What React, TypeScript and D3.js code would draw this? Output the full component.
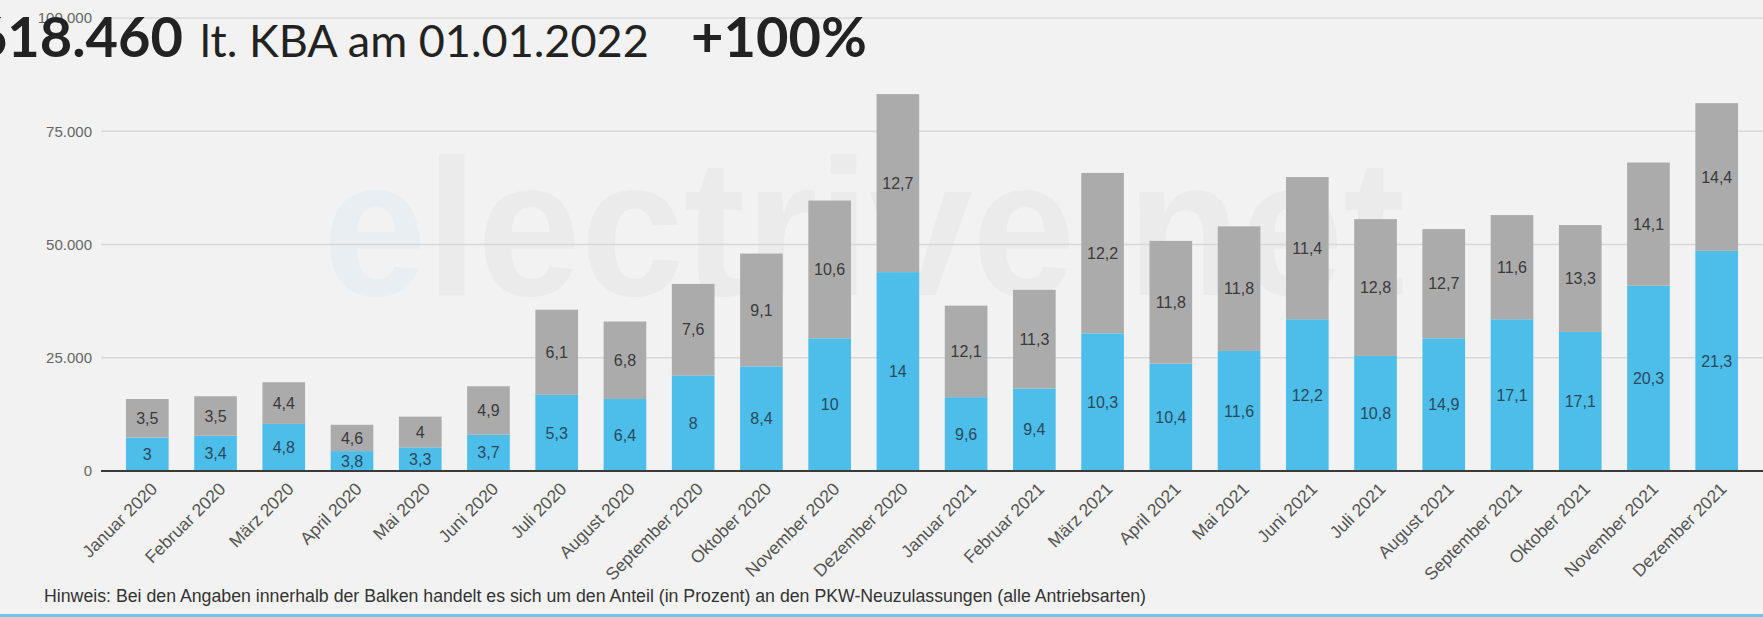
import * as d3 from "d3";
import React from "react";

// monthly BEV / PHEV new registrations (KBA)
const categories = [
  "Januar 2020", "Februar 2020", "März 2020", "April 2020", "Mai 2020", "Juni 2020",
  "Juli 2020", "August 2020", "September 2020", "Oktober 2020", "November 2020", "Dezember 2020",
  "Januar 2021", "Februar 2021", "März 2021", "April 2021", "Mai 2021", "Juni 2021",
  "Juli 2021", "August 2021", "September 2021", "Oktober 2021", "November 2021", "Dezember 2021",
];
const bevCounts = [
  7400, 7800, 10400, 4400, 5200, 8000, 16800, 15900, 21100, 23100, 29300, 43900,
  16300, 18200, 30400, 23700, 26500, 33500, 25400, 29300, 33500, 30700, 40900, 48600,
];
const phevCounts = [
  8500, 8700, 9200, 5800, 6800, 10700, 18800, 17100, 20200, 24900, 30400, 39300,
  20200, 21800, 35400, 27100, 27500, 31400, 30200, 24100, 23000, 23600, 27200, 32600,
];
// shares (percent of all new cars) printed inside the bars
const bevShare = [
  "3", "3,4", "4,8", "3,8", "3,3", "3,7", "5,3", "6,4", "8", "8,4", "10", "14",
  "9,6", "9,4", "10,3", "10,4", "11,6", "12,2", "10,8", "14,9", "17,1", "17,1", "20,3", "21,3",
];
const phevShare = [
  "3,5", "3,5", "4,4", "4,6", "4", "4,9", "6,1", "6,8", "7,6", "9,1", "10,6", "12,7",
  "12,1", "11,3", "12,2", "11,8", "11,8", "11,4", "12,8", "12,7", "11,6", "13,3", "14,1", "14,4",
];
const yTickValues = [0, 25000, 50000, 75000, 100000];

const blue = "#4dbde9";
const grey = "#ababab";
const chartFont = "'Liberation Sans', Arial, sans-serif";
const narrowFont = "'Liberation Sans Narrow', 'Arial Narrow', 'Liberation Sans', sans-serif";

const de = d3.formatLocale({
  decimal: ",",
  thousands: ".",
  grouping: [3],
  currency: ["", " €"],
});
const fmt = de.format(",d");

export default function App() {
  const width = 1763;
  const height = 617;

  const x = d3
    .scaleBand<string>()
    .domain(categories)
    .range([101, width])
    .paddingInner(0.375)
    .paddingOuter(0.366);
  const y = d3.scaleLinear([0, 100000], [471, 18]);

  const stacked = categories.map((c, i) => ({
    c,
    bev: bevCounts[i],
    phev: phevCounts[i],
    bevLabel: bevShare[i],
    phevLabel: phevShare[i],
  }));

  return (
    <svg
      width={width}
      height={height}
      style={{ position: "absolute", left: 0, top: 0, display: "block" }}
    >
      <rect width={width} height={height} fill="#f2f2f2" />

      {/* watermark */}
      <text
        x={323}
        y={295}
        fontFamily={chartFont}
        fontWeight="bold"
        fontSize={195}
        textLength={1082}
        lengthAdjust="spacingAndGlyphs"
        fill="#ebebeb"
      >
        <tspan fill="#e8eef2">e</tspan>lectrive.net
      </text>

      {/* y grid + labels */}
      <g fontFamily={narrowFont} fontSize={15} fill="#666" textAnchor="end">
        {yTickValues.map((v) => (
          <g key={v} transform={`translate(0,${y(v)})`}>
            {v > 0 && <line x1={101} x2={width} stroke="#d8d8d8" strokeWidth={1.5} />}
            <text x={92} dy="0.35em">
              {fmt(v)}
            </text>
          </g>
        ))}
      </g>

      {/* bars */}
      {stacked.map((d) => {
        const x0 = x(d.c) ?? 0;
        const bw = x.bandwidth();
        const yb = y(d.bev);
        const yt = y(d.bev + d.phev);
        return (
          <g key={d.c}>
            <rect x={x0} y={yb} width={bw} height={y(0) - yb} fill={blue} />
            <rect x={x0} y={yt} width={bw} height={yb - yt} fill={grey} />
          </g>
        );
      })}

      {/* zero line */}
      <line x1={101} x2={width} y1={y(0)} y2={y(0)} stroke="#3a3a3a" strokeWidth={2} />

      {/* labels inside bars */}
      <g fontFamily={chartFont} fontSize={16} textAnchor="middle">
        {stacked.map((d) => {
          const cx = (x(d.c) ?? 0) + x.bandwidth() / 2;
          return (
            <g key={d.c}>
              <text x={cx} y={(y(0) + y(d.bev)) / 2} dy="0.35em" fill="#2a4a5c">
                {d.bevLabel}
              </text>
              <text
                x={cx}
                y={(y(d.bev) + y(d.bev + d.phev)) / 2}
                dy="0.35em"
                fill="#3a3a3a"
              >
                {d.phevLabel}
              </text>
            </g>
          );
        })}
      </g>

      {/* x axis labels */}
      <g fontFamily={chartFont} fontSize={17.5} fill="#555" textAnchor="end">
        {categories.map((c) => {
          const cx = (x(c) ?? 0) + x.bandwidth() / 2 + 11;
          return (
            <text key={c} transform={`translate(${cx},${y(0) + 19}) rotate(-45)`}>
              {c}
            </text>
          );
        })}
      </g>

      {/* footnote */}
      <text
        x={44}
        y={602}
        fontFamily={chartFont}
        fontSize={17.5}
        fill="#333"
        textLength={1102}
        lengthAdjust="spacingAndGlyphs"
      >
        Hinweis: Bei den Angaben innerhalb der Balken handelt es sich um den Anteil (in Prozent) an
        den PKW-Neuzulassungen (alle Antriebsarten)
      </text>
      <line x1={0} x2={width} y1={615.5} y2={615.5} stroke="#6cc6ec" strokeWidth={3} />

      {/* headline */}
      <g fontFamily="Lato, 'Open Sans', sans-serif" fill="#222">
        <text x={183} y={57} fontSize={56} fontWeight={700} textAnchor="end">
          618.460
        </text>
        <text x={200} y={57} fontSize={45} fontWeight={400}>
          lt. KBA am 01.01.2022
        </text>
        <text x={691} y={57} fontSize={56} fontWeight={700}>
          +100%
        </text>
      </g>
    </svg>
  );
}
